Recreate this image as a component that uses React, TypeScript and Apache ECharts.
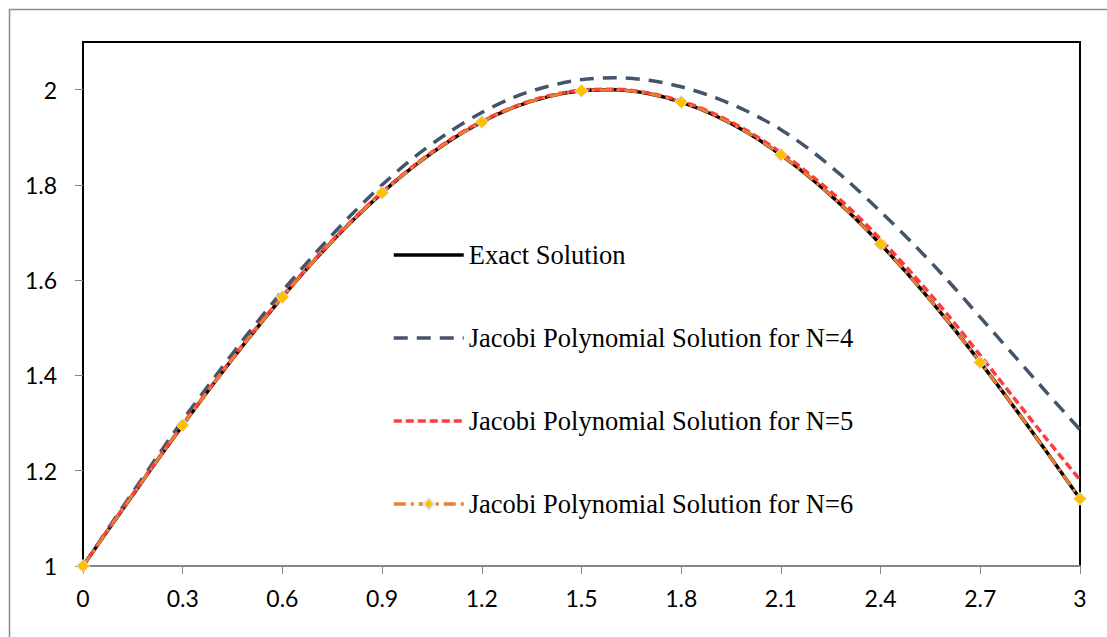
import React, { useEffect, useRef } from "react";
import * as echarts from "echarts";

const xValues = [0, 0.1, 0.2, 0.3, 0.4, 0.5, 0.6, 0.7, 0.8, 0.9, 1, 1.1, 1.2, 1.3, 1.4, 1.5, 1.6, 1.7, 1.8, 1.9, 2, 2.1, 2.2, 2.3, 2.4, 2.5, 2.6, 2.7, 2.8, 2.9, 3];
const exactSolution = [1, 1.0998, 1.1987, 1.2955, 1.3894, 1.4794, 1.5646, 1.6442, 1.7174, 1.7833, 1.8415, 1.8912, 1.932, 1.9636, 1.9854, 1.9975, 1.9996, 1.9917, 1.9738, 1.9463, 1.9093, 1.8632, 1.8085, 1.7457, 1.6755, 1.5985, 1.5155, 1.4274, 1.335, 1.2392, 1.1411];
const jacobiN4 = [1, 1.104, 1.206, 1.306, 1.4, 1.491, 1.577, 1.657, 1.732, 1.8, 1.86, 1.91, 1.952, 1.985, 2.007, 2.021, 2.025, 2.02, 2.006, 1.984, 1.954, 1.916, 1.867, 1.809, 1.744, 1.675, 1.601, 1.522, 1.443, 1.364, 1.286];
const jacobiN5 = [1, 1.101, 1.2, 1.297, 1.391, 1.481, 1.566, 1.646, 1.719, 1.785, 1.843, 1.893, 1.934, 1.965, 1.987, 1.999, 2.001, 1.993, 1.976, 1.949, 1.913, 1.868, 1.815, 1.755, 1.686, 1.61, 1.529, 1.442, 1.354, 1.266, 1.181];
const jacobiN6 = [1, 1.0998, 1.1987, 1.2955, 1.3894, 1.4794, 1.5646, 1.6442, 1.7174, 1.7833, 1.8415, 1.8912, 1.932, 1.9636, 1.9854, 1.9975, 1.9996, 1.9917, 1.9738, 1.9463, 1.9093, 1.8632, 1.8085, 1.7457, 1.6755, 1.5985, 1.5155, 1.4274, 1.335, 1.2392, 1.1411];
const markerXs = [0, 0.3, 0.6, 0.9, 1.2, 1.5, 1.8, 2.1, 2.4, 2.7, 3];
const yTicks = [1, 1.2, 1.4, 1.6, 1.8, 2];
const seriesNames = [
  "Exact Solution",
  "Jacobi Polynomial Solution for N=4",
  "Jacobi Polynomial Solution for N=5",
  "Jacobi Polynomial Solution for N=6",
];

const pairs = (ys: number[]) => xValues.map((x, i) => [x, ys[i]]);
const markedPairs = (ys: number[]) =>
  xValues.map((x, i) => ({
    value: [x, ys[i]],
    symbol: markerXs.some((m) => Math.abs(m - x) < 1e-9) ? "diamond" : "none",
  }));
const fmt = (v: number) => String(Math.round(v * 10) / 10);

export default function App() {
  const ref = useRef<HTMLDivElement>(null);
  useEffect(() => {
    if (!ref.current) return;
    const chart = echarts.init(ref.current, null, { renderer: "svg" });
    chart.setOption({
      animation: false,
      backgroundColor: "#ffffff",
      graphic: [
        { type: "line", shape: { x1: 9, y1: 9.5, x2: 1107, y2: 9.5 }, style: { stroke: "#8c8c8c", lineWidth: 1.5 } },
        { type: "line", shape: { x1: 9.5, y1: 9, x2: 9.5, y2: 637 }, style: { stroke: "#8c8c8c", lineWidth: 1.5 } },
      ],
      grid: {
        left: 83,
        right: 27,
        top: 42,
        bottom: 71,
        show: true,
        borderColor: "#000000",
        borderWidth: 2,
      },
      legend: {
        orient: "vertical",
        left: 392,
        top: 240,
        padding: 0,
        itemWidth: 70,
        itemHeight: 14,
        itemGap: 53,
        lineStyle: { width: 3.5 },
        data: [
          { name: seriesNames[0], itemStyle: { opacity: 0 } },
          { name: seriesNames[1], itemStyle: { opacity: 0 } },
          { name: seriesNames[2], itemStyle: { opacity: 0 } },
          { name: seriesNames[3] },
        ],
        textStyle: {
          fontFamily: "Liberation Serif",
          fontSize: 26.5,
          color: "#000000",
          lineHeight: 30,
        },
      },
      xAxis: {
        type: "value",
        min: 0,
        max: 3,
        interval: 0.3,
        splitLine: { show: false },
        axisLine: { show: true, lineStyle: { color: "#868686", width: 2 } },
        axisTick: { show: true, length: 8, lineStyle: { color: "#868686", width: 1 } },
        axisLabel: {
          formatter: (v: number) => fmt(v),
          fontFamily: "Lato",
          fontSize: 23,
          color: "#000000",
          margin: 20,
        },
      },
      yAxis: {
        type: "value",
        min: 1,
        max: 2.1,
        interval: 0.2,
        splitLine: { show: false },
        axisLine: { show: true, lineStyle: { color: "#000000", width: 2 } },
        axisTick: { show: true, length: 8, customValues: yTicks, lineStyle: { color: "#868686", width: 1 } },
        axisLabel: {
          customValues: yTicks,
          formatter: (v: number) => fmt(v),
          fontFamily: "Lato",
          fontSize: 23,
          color: "#000000",
          margin: 26,
        },
      },
      series: [
        {
          name: seriesNames[0],
          type: "line",
          smooth: 0.3,
          symbol: "none",
          data: pairs(exactSolution),
          lineStyle: { color: "#000000", width: 3.5 },
          itemStyle: { color: "#000000" },
          z: 2,
        },
        {
          name: seriesNames[1],
          type: "line",
          smooth: 0.3,
          symbol: "none",
          data: pairs(jacobiN4),
          lineStyle: { color: "#44546A", width: 3.5, type: [14, 9] },
          itemStyle: { color: "#44546A" },
          z: 3,
        },
        {
          name: seriesNames[2],
          type: "line",
          smooth: 0.3,
          symbol: "none",
          data: pairs(jacobiN5),
          lineStyle: { color: "#FF3B3B", width: 3.5, type: [8, 4] },
          itemStyle: { color: "#FF3B3B" },
          z: 4,
        },
        {
          name: seriesNames[3],
          type: "line",
          smooth: 0.3,
          symbol: "diamond",
          symbolSize: 13,
          showAllSymbol: true,
          data: markedPairs(jacobiN6),
          lineStyle: { color: "#ED7D31", width: 3, type: [12, 5, 3, 5] },
          itemStyle: { color: "#FFC000", borderColor: "#DCE6F0", borderWidth: 1 },
          z: 5,
        },
      ],
    });
    return () => chart.dispose();
  }, []);
  return (
    <div
      ref={ref}
      style={{ position: "fixed", left: 0, top: 0, width: 1107, height: 637 }}
    />
  );
}
